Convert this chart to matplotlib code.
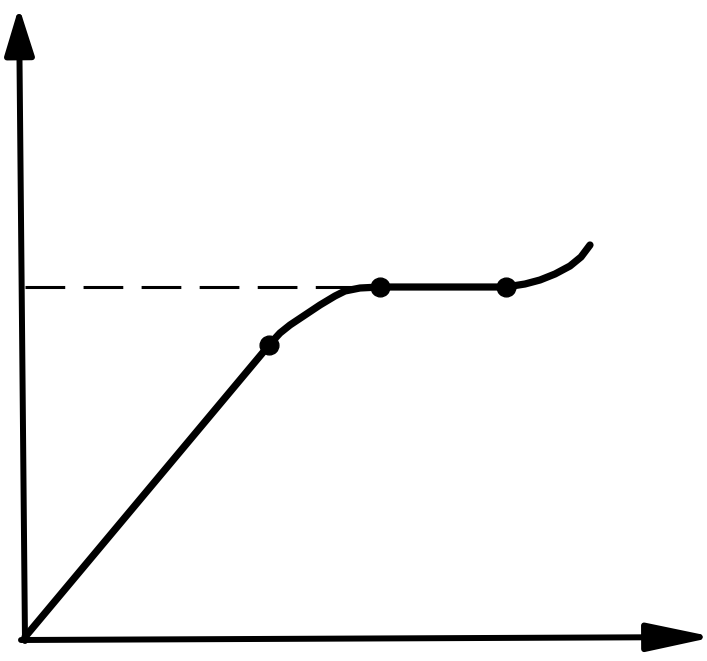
import matplotlib
matplotlib.use("Agg")
import matplotlib.pyplot as plt

# curve (origin at the corner of the axes)
curve_x = [0, 240, 244, 255, 265, 280, 295, 310, 320, 335, 355,
           425, 481, 500, 515, 530, 545, 556, 565]
curve_y = [0, 287, 292, 304, 312, 322, 332, 341, 346, 349, 350,
           350, 350, 353, 357, 363, 371, 380, 392]

dot_x = [244, 355, 481]
dot_y = [292, 350, 350]

level = 350
level_end = 330

fig = plt.figure(figsize=(7.07, 6.61), dpi=100)
ax = fig.add_axes([0, 0, 1, 1])
ax.set_xlim(-25, 682)
ax.set_ylim(-24, 637)
ax.axis("off")

# axes drawn as arrows
ax.annotate("", xy=(-6, 630), xytext=(0, -4), annotation_clip=False,
            arrowprops=dict(arrowstyle="-|>,head_length=2.9,head_width=0.9",
                            lw=4.3, color="black", shrinkA=0, shrinkB=0))
ax.annotate("", xy=(689, 0), xytext=(-4, -3), annotation_clip=False,
            arrowprops=dict(arrowstyle="-|>,head_length=4.0,head_width=0.85",
                            lw=4.3, color="black", shrinkA=0, shrinkB=0))

# dashed level line
ax.plot([0, level_end], [level, level], color="black", lw=2.2,
        dashes=(13, 6))

ax.plot(curve_x, curve_y, color="black", lw=5.2, solid_capstyle="round",
        solid_joinstyle="round")
ax.plot(dot_x, dot_y, "o", color="black", markersize=13.5)

fig.savefig("out.png", dpi=100, facecolor="white")
